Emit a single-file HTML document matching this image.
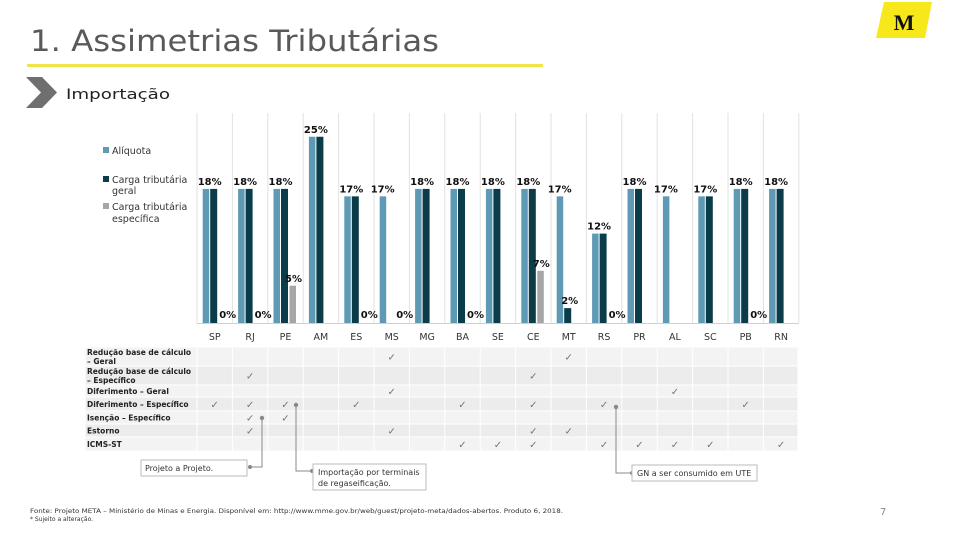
<!DOCTYPE html>
<html><head><meta charset="utf-8">
<style>
body{margin:0;background:#fff;font-family:"DejaVu Sans",sans-serif;}
svg{display:block}
</style></head>
<body>
<svg id="chart" width="960" height="540" viewBox="0 0 960 540" xmlns="http://www.w3.org/2000/svg" font-family="DejaVu Sans, sans-serif">
<text x="30" y="51" font-size="29" fill="#595959" textLength="409" lengthAdjust="spacingAndGlyphs">1. Assimetrias Tributárias</text>
<rect x="27" y="64" width="516" height="3" fill="#efe44a"/>
<polygon points="26,77 42,77 57,92.5 42,108 26,108 41,92.5" fill="#6f6f6f"/>
<text x="66" y="99" font-size="14.5" fill="#222" textLength="104" lengthAdjust="spacingAndGlyphs">Importação</text>
<g>
<polygon points="884,2 932,2 925,38 876,38" fill="#f7e81c"/>
<text x="904" y="30" font-size="22" font-family="Liberation Serif, serif" font-weight="bold" text-anchor="middle" fill="#111">M</text>
</g>
<g font-size="9.5" fill="#333">
<rect x="103" y="147" width="6" height="6" fill="#5f9ab4"/>
<text x="112" y="154">Alíquota</text>
<rect x="103" y="176" width="6" height="6" fill="#0b3c49"/>
<text x="112" y="183">Carga tributária</text>
<text x="112" y="194">geral</text>
<rect x="103" y="203" width="6" height="6" fill="#a6a6a6"/>
<text x="112" y="210">Carga tributária</text>
<text x="112" y="222">específica</text>
</g>
<g id="grid"></g>
<g id="bars"></g>
<g id="table"></g>
<g font-size="8" fill="#333">
<polyline points="262,418 262,467 250,467" fill="none" stroke="#888"/>
<circle cx="262" cy="418" r="2.2" fill="#888"/><circle cx="250" cy="467" r="2" fill="#888"/>
<rect x="141" y="460" width="106" height="16" fill="#fff" stroke="#bbb"/>
<text x="145" y="471">Projeto a Projeto.</text>
<polyline points="296,405 296,471 312,471" fill="none" stroke="#888"/>
<circle cx="296" cy="405" r="2.2" fill="#888"/><circle cx="312" cy="471" r="2" fill="#888"/>
<rect x="313" y="464" width="113" height="26" fill="#fff" stroke="#bbb"/>
<text x="318" y="475">Importação por terminais</text>
<text x="318" y="486">de regaseificação.</text>
<polyline points="616,407 616,473 632,473" fill="none" stroke="#888"/>
<circle cx="616" cy="407" r="2.2" fill="#888"/><circle cx="632" cy="473" r="2" fill="#888"/>
<rect x="632" y="465" width="125" height="16" fill="#fff" stroke="#bbb"/>
<text x="637" y="476">GN a ser consumido em UTE</text>
</g>
<text x="30" y="513" font-size="6" fill="#333" textLength="533" lengthAdjust="spacingAndGlyphs">Fonte: Projeto META – Ministério de Minas e Energia. Disponível em: http://www.mme.gov.br/web/guest/projeto-meta/dados-abertos. Produto 6, 2018.</text>
<text x="30" y="521" font-size="6" fill="#333">* Sujeito a alteração.</text>
<text x="880" y="515" font-size="10" fill="#888">7</text>
</svg>
<script>
const states=["SP","RJ","PE","AM","ES","MS","MG","BA","SE","CE","MT","RS","PR","AL","SC","PB","RN"];
const aliquota=[18,18,18,25,17,17,18,18,18,18,17,12,18,17,17,18,18];
const geral=[18,18,18,25,17,null,18,18,18,18,2,12,18,null,17,18,18];
const especifica=[0,0,5,null,0,0,null,0,null,7,null,0,null,null,null,0,null];
const rowLabels=[["Redução base de cálculo","– Geral"],["Redução base de cálculo","– Específico"],["Diferimento – Geral"],["Diferimento – Específico"],["Isenção – Específico"],["Estorno"],["ICMS-ST"]];
const checks=[["MS","MT"],["RJ","CE"],["MS","AL"],["SP","RJ","PE","ES","BA","CE","RS","PB"],["RJ","PE"],["RJ","MS","CE","MT"],["BA","SE","CE","RS","PR","AL","SC","RN"]];
const NS="http://www.w3.org/2000/svg";
const x0=197,cw=35.4,base=323,k=7.45;
const xc=i=>x0+cw*(i+0.5);
const y=v=>base-v*k;
function mk(t,a,p){const e=document.createElementNS(NS,t);for(const n in a)e.setAttribute(n,a[n]);p.appendChild(e);return e;}
const grid=document.getElementById('grid'),bars=document.getElementById('bars'),table=document.getElementById('table');
for(let i=0;i<=states.length;i++){const l=mk('line',{x1:x0+cw*i,x2:x0+cw*i,y1:113,y2:base,stroke:'#e2e2e2'},grid);

}
const ax=mk('line',{x1:x0,x2:x0+cw*17,y1:base+0.5,y2:base+0.5,stroke:'#d0d0d0'},grid);


function lbl(x,yy,s){const t=mk('text',{x:x,y:yy,'text-anchor':'middle','font-size':'10','font-weight':'bold',fill:'#111'},bars);t.textContent=s;

}
states.forEach((s,i)=>{const c=xc(i);
 const a=aliquota[i],g=geral[i],e=especifica[i];
 if(a!=null){const r=mk('rect',{x:c-12,y:y(a),width:6.5,height:a*k,fill:'#5f9ab4'},bars);
 
 }
 if(g!=null){const r=mk('rect',{x:c-4.5,y:y(g),width:7,height:g*k,fill:'#0b3c49'},bars);
 
 }
 if(e!=null&&e>0){const r=mk('rect',{x:c+4,y:y(e),width:6.5,height:e*k,fill:'#a6a6a6'},bars);
 
 }
 if(g!=null&&g===a){lbl(c-5,y(a)-4,a+'%');}
 else{lbl(c-9,y(a)-4,a+'%');if(g!=null)lbl(c+1,y(g)-4,g+'%');}
 if(e!=null){lbl(e>0?c+8:c+13,y(e)-(e>0?4:5),e+'%');}
 const t=mk('text',{x:c,y:340,'text-anchor':'middle','font-size':'9.5',fill:'#333'},bars);t.textContent=s;
 
 
});
const rowY=[347,366,385,397,411,424,437,451];
rowLabels.forEach((lab,r)=>{const bg=mk('rect',{x:85,y:rowY[r],width:713,height:rowY[r+1]-rowY[r],fill:r%2?'#ececec':'#f3f3f3',stroke:'#fff'},table);
 
 
 const h=rowY[r+1]-rowY[r];
 lab.forEach((ln,j)=>{const t=mk('text',{x:87,y:lab.length>1?rowY[r]+8+j*9:rowY[r]+h/2+3,'font-size':'7.5','font-weight':'bold',fill:'#222'},table);t.textContent=ln;
 
 });
 checks[r].forEach(s=>{const i=states.indexOf(s);const t=mk('text',{x:xc(i),y:rowY[r]+h/2+4,'text-anchor':'middle','font-size':'10',fill:'#777'},table);t.textContent='✓';
 
 });
});
for(let i=0;i<=states.length;i++){mk('line',{x1:x0+cw*i,x2:x0+cw*i,y1:347,y2:451,stroke:'#fff'},table);}
</script>
</body></html>
